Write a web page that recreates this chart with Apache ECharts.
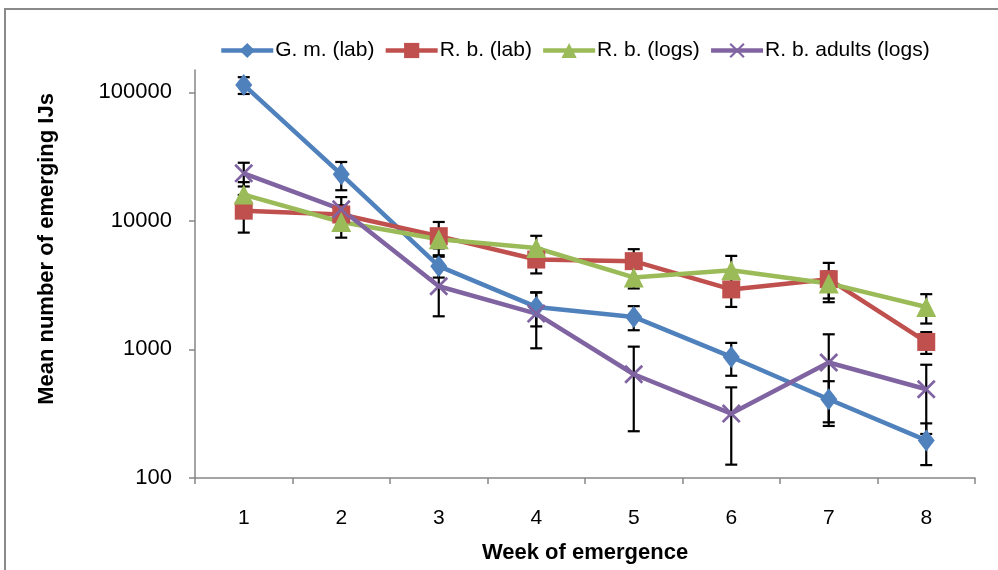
<!DOCTYPE html>
<html>
<head>
<meta charset="utf-8">
<script src="https://cdn.jsdelivr.net/npm/echarts@6/dist/echarts.min.js"></script>
<style>
html,body{margin:0;padding:0;background:#fff;}
#c{width:998px;height:570px;}
</style>
</head>
<body>
<div id="c"></div>
<script>
// ---- data ----
var weeks = ['1','2','3','4','5','6','7','8'];
var seriesNames = ['G. m. (lab)', 'R. b. (lab)', 'R. b. (logs)', 'R. b. adults (logs)'];
var gmLab      = [114000, 23000, 4440, 2140, 1790, 874, 410, 196];
var gmLabErr   = [17000, 5700, 820, 630, 380, 250, 156, 70];
var rbLab      = [12000, 11200, 7600, 5000, 4860, 2930, 3520, 1143];
var rbLabErr   = [3900, 2000, 2200, 1100, 1160, 790, 1190, 220];
var rbLogs     = [16000, 9800, 7200, 6150, 3630, 4130, 3260, 2140];
var rbLogsErr  = [4000, 2400, 1100, 1500, 650, 1210, 770, 550];
var rbAdults   = [23400, 12300, 3100, 1900, 641, 317, 791, 490];
var rbAdultsErr= [4900, 3000, 1290, 880, 410, 190, 520, 270];
var yTicks = [100, 1000, 10000, 100000];

var colors = ['#4F81BD', '#C0504D', '#9BBB59', '#8064A2'];
var symbols = ['diamond', 'rect', 'triangle',
  'path://M0,1 L1,0 L5,4 L9,0 L10,1 L6,5 L10,9 L9,10 L5,6 L1,10 L0,9 L4,5 Z'];
var symbolSizes = [[17,22], 18, 20, 19];
var values = [gmLab, rbLab, rbLogs, rbAdults];
var errs = [gmLabErr, rbLabErr, rbLogsErr, rbAdultsErr];

var chart = echarts.init(document.getElementById('c'), null, {renderer: 'canvas'});

function errData(v, e) {
  return v.map(function (d, i) { return [i, d - e[i], d + e[i]]; });
}
function errRender(params, api) {
  var x = api.value(0);
  var lo = api.coord([x, api.value(1)]);
  var hi = api.coord([x, api.value(2)]);
  var hw = 6;
  var st = {stroke: '#000', lineWidth: 2.2};
  return {
    type: 'group',
    children: [
      {type: 'line', shape: {x1: lo[0], y1: lo[1], x2: hi[0], y2: hi[1]}, style: st},
      {type: 'line', shape: {x1: lo[0]-hw, y1: lo[1], x2: lo[0]+hw, y2: lo[1]}, style: st},
      {type: 'line', shape: {x1: hi[0]-hw, y1: hi[1], x2: hi[0]+hw, y2: hi[1]}, style: st}
    ]
  };
}

var series = [];
for (var k = 0; k < 4; k++) {
  series.push({
    type: 'custom',
    name: 'err' + k,
    renderItem: errRender,
    data: errData(values[k], errs[k]),
    encode: {x: 0, y: [1, 2]},
    silent: true,
    z: 2
  });
  series.push({
    type: 'line',
    name: seriesNames[k],
    data: values[k],
    symbol: symbols[k],
    symbolSize: symbolSizes[k],
    showAllSymbol: true,
    lineStyle: {color: colors[k], width: 4.5},
    itemStyle: {color: colors[k]},
    z: 2
  });
}

var option = {
  animation: false,
  textStyle: {fontFamily: 'Liberation Sans, Arial, sans-serif'},
  graphic: [{
    type: 'rect',
    shape: {x: 5, y: 9, width: 1200, height: 800},
    style: {fill: 'none', stroke: '#8a8a8a', lineWidth: 2},
    silent: true
  }],
  legend: {
    data: seriesNames.map(function (n) { return {name: n}; }),
    left: 214,
    top: 35,
    itemWidth: 52,
    itemHeight: 19,
    itemGap: 9,
    lineStyle: {width: 4.5},
    textStyle: {fontFamily: 'Liberation Sans, Arial, sans-serif', fontSize: 21, color: '#000', padding: [0,0,0,-3]}
  },
  grid: {left: 195, right: 23, top: 70, bottom: 92},
  xAxis: {
    type: 'category',
    data: weeks,
    boundaryGap: true,
    axisLine: {lineStyle: {color: '#868686', width: 1.5}},
    axisTick: {show: true, length: 6, alignWithLabel: false, lineStyle: {color: '#868686', width: 1.5}},
    axisLabel: {fontSize: 21, color: '#000', margin: 30},
    name: 'Week of emergence',
    nameLocation: 'middle',
    nameGap: 64,
    nameTextStyle: {fontSize: 22, fontWeight: 'bold', color: '#000'}
  },
  yAxis: {
    type: 'log',
    logBase: 10,
    min: 100,
    max: 149000,
    splitLine: {show: false},
    axisLine: {show: true, lineStyle: {color: '#868686', width: 1.5}},
    axisTick: {show: true, length: 6, lineStyle: {color: '#868686', width: 1.5}},
    axisLabel: {
      fontSize: 22, color: '#000', margin: 23, showMaxLabel: false,
      formatter: function (v) {
        for (var i = 0; i < yTicks.length; i++) {
          if (Math.abs(v - yTicks[i]) / yTicks[i] < 1e-6) return String(yTicks[i]);
        }
        return '';
      }
    },
    name: 'Mean number of emerging IJs',
    nameLocation: 'middle',
    nameGap: 137,
    nameRotate: 90,
    nameTextStyle: {fontSize: 22, fontWeight: 'bold', color: '#000', padding: [0, 0, 0, 50]}
  },
  series: series
};
chart.setOption(option);
</script>
</body>
</html>
